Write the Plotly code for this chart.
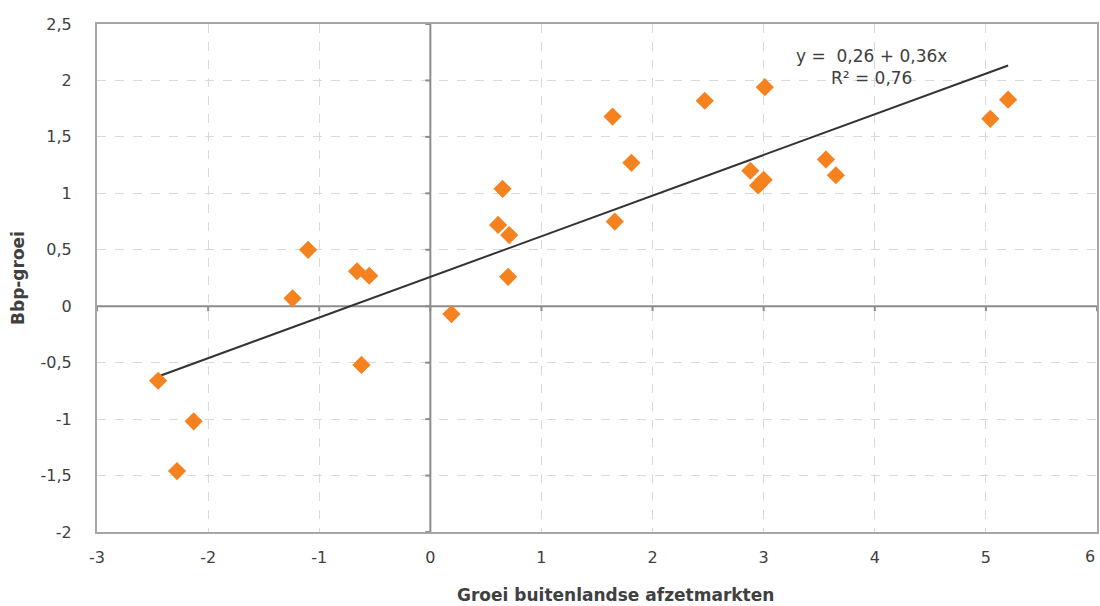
import plotly.graph_objects as go

# Data
x_vals = [-2.45, -2.13, -2.28, -1.24, -1.10, -0.66, -0.55, -0.62, 0.19, 0.61, 0.65,
          0.71, 0.70, 1.64, 1.66, 1.81, 2.47, 3.01, 2.88, 2.95, 3.00, 3.56, 3.65,
          5.04, 5.20]
y_vals = [-0.66, -1.02, -1.46, 0.07, 0.50, 0.31, 0.27, -0.52, -0.07, 0.72, 1.04,
          0.63, 0.26, 1.68, 0.75, 1.27, 1.82, 1.94, 1.20, 1.07, 1.12, 1.30, 1.16,
          1.66, 1.83]
intercept = 0.26
slope = 0.36
r2 = 0.76

x_ticks = [-3, -2, -1, 0, 1, 2, 3, 4, 5, 6]
y_ticks = [-2, -1.5, -1, -0.5, 0, 0.5, 1, 1.5, 2, 2.5]
x_title = "Groei buitenlandse afzetmarkten"
y_title = "Bbp-groei"


def fmt(v):
    return ("%g" % v).replace(".", ",")

font_family = "DejaVu Sans"
txt_color = "#404040"

fig = go.Figure()

xmin, xmax = min(x_vals), max(x_vals)
fig.add_trace(go.Scatter(
    x=[xmin, xmax], y=[intercept + slope * xmin, intercept + slope * xmax],
    mode="lines", line=dict(color="#333333", width=2), hoverinfo="skip",
    showlegend=False))

fig.add_trace(go.Scatter(
    x=x_vals, y=y_vals, mode="markers",
    marker=dict(symbol="diamond", size=14, color="#F5821F"),
    showlegend=False))

shapes = []
zl = dict(color="#8c8c8c", width=2)
shapes.append(dict(type="line", xref="x", yref="y", x0=0, x1=0, y0=-2, y1=2.5,
                   line=zl, layer="between"))
shapes.append(dict(type="line", xref="x", yref="y", x0=-3, x1=6, y0=0, y1=0,
                   line=zl, layer="between"))
for yt in y_ticks:
    shapes.append(dict(type="line", xref="x", yref="y", xsizemode="pixel", xanchor=0,
                       x0=-5, x1=0, y0=yt, y1=yt, line=zl, layer="between"))
for xt in x_ticks:
    shapes.append(dict(type="line", xref="x", yref="y", ysizemode="pixel", yanchor=0,
                       y0=-5, y1=0, x0=xt, x1=xt, line=zl, layer="between"))

annotations = [
    dict(x=3.97, y=2.12, xref="x", yref="y", showarrow=False, align="center",
         text="y =  %s + %sx<br>R² = %s" % (fmt(intercept), fmt(slope), fmt(r2)),
         font=dict(size=17, color=txt_color)),
    # last x tick label, kept inside the page edge
    dict(x=x_ticks[-1], y=0, xref="x", yref="paper", xanchor="right", yanchor="top",
         yshift=-13, showarrow=False, text=fmt(x_ticks[-1]),
         font=dict(size=16, color=txt_color)),
    dict(x=0.518, y=-0.124, xref="paper", yref="paper", xanchor="center",
         yanchor="middle", showarrow=False,
         text="<b>%s</b>" % x_title, font=dict(size=17, color=txt_color)),
    dict(x=-0.079, y=0.5, xref="paper", yref="paper", xanchor="center",
         yanchor="middle", showarrow=False, textangle=-90,
         text="<b>%s</b>" % y_title, font=dict(size=17, color=txt_color)),
]

fig.update_layout(
    width=1100, height=606,
    margin=dict(l=97, r=3, t=24, b=74),
    paper_bgcolor="white", plot_bgcolor="white",
    font=dict(family=font_family, size=16, color=txt_color),
    shapes=shapes,
    xaxis=dict(range=[-3, 6], tickvals=x_ticks[:-1], ticktext=[fmt(v) for v in x_ticks[:-1]],
               showgrid=True, gridcolor="#d9d9d9", griddash="dash", gridwidth=1,
               zeroline=False, showline=True, linecolor="#a6a6a6", linewidth=2,
               mirror=True, ticks="", ticklabelstandoff=10, automargin=False,
               tickfont=dict(size=16)),
    yaxis=dict(range=[-2, 2.5], tickvals=y_ticks, ticktext=[fmt(v) for v in y_ticks],
               showgrid=True, gridcolor="#d9d9d9", griddash="dash", gridwidth=1,
               zeroline=False, showline=True, linecolor="#a6a6a6", linewidth=2,
               mirror=True, ticks="", ticklabelstandoff=20, automargin=False,
               tickfont=dict(size=16)),
    annotations=annotations,
)

fig.write_html("out.html")
